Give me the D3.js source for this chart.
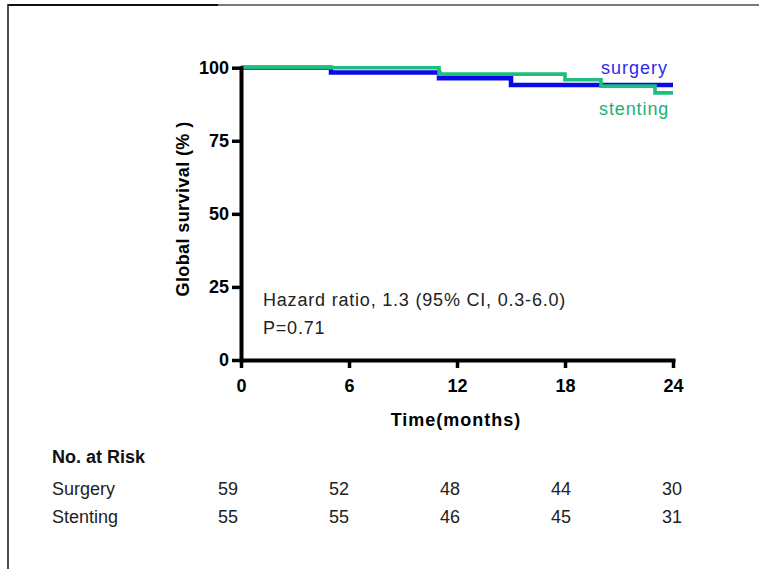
<!DOCTYPE html>
<html>
<head>
<meta charset="utf-8">
<script src="https://cdn.jsdelivr.net/npm/d3@7"></script>
<style>
  html, body { margin: 0; padding: 0; background: #fff; }
  svg { display: block; }
  text { font-family: "Liberation Sans", Arial, sans-serif; }
</style>
</head>
<body>
<svg id="chart" width="759" height="569"></svg>
<script>
// Kaplan-Meier step curves (time in months, survival in %)
const surgeryTimes = [0, 5, 11, 15, 24];
const surgeryValues = [100, 98.4, 96.4, 94.1, 94.1];
const stentingTimes = [0, 11, 18, 20, 23, 24];
const stentingValues = [100, 97.8, 95.9, 93.7, 91.4, 91.4];

// Axis ticks
const xTicks = [0, 6, 12, 18, 24];
const yTicks = [0, 25, 50, 75, 100];

// Number-at-risk table
const riskGroups = ["Surgery", "Stenting"];
const riskSurgery = [59, 52, 48, 44, 30];
const riskStenting = [55, 55, 46, 45, 31];

const svg = d3.select("#chart");

// Page frame
svg.append("line").attr("x1", 8).attr("x2", 218).attr("y1", 5).attr("y2", 5)
  .attr("stroke", "#111").attr("stroke-width", 2);
svg.append("line").attr("x1", 218).attr("x2", 759).attr("y1", 5).attr("y2", 5)
  .attr("stroke", "#7a7a7a").attr("stroke-width", 2);
svg.append("line").attr("x1", 8).attr("x2", 8).attr("y1", 4).attr("y2", 569)
  .attr("stroke", "#222").attr("stroke-width", 1.6);

const x = d3.scaleLinear().domain([0, 24]).range([241, 673]);
const y = d3.scaleLinear().domain([0, 100]).range([360, 67.7]);

// Survival curves
const step = d3.line().x(d => x(d[0])).y(d => y(d[1])).curve(d3.curveStepAfter);
const surgeryPts = surgeryTimes.map((t, i) => [t, surgeryValues[i]]);
const stentingPts = stentingTimes.map((t, i) => [t, stentingValues[i]]);

svg.append("path").datum(surgeryPts).attr("d", step)
  .attr("fill", "none").attr("stroke", "#0a0ae6").attr("stroke-width", 4.5);
svg.append("path").datum(stentingPts).attr("d", step)
  .attr("fill", "none").attr("stroke", "#1ebf7e").attr("stroke-width", 3.6);

// Axes
const yAxis = svg.append("g").attr("transform", "translate(241,0)")
  .call(d3.axisLeft(y).tickValues(yTicks).tickSize(9).tickPadding(3).tickSizeOuter(0));
const xAxis = svg.append("g").attr("transform", "translate(0,360)")
  .call(d3.axisBottom(x).tickValues(xTicks).tickSize(8).tickPadding(11).tickSizeOuter(0));

[yAxis, xAxis].forEach(ax => {
  ax.select(".domain").attr("stroke", "#000").attr("stroke-width", 4).attr("stroke-linecap", "square");
  ax.selectAll(".tick line").attr("stroke", "#000").attr("stroke-width", 3.5);
  ax.selectAll(".tick text")
    .attr("fill", "#000")
    .style("font-family", "'Liberation Sans Narrow', 'Liberation Sans', Arial, sans-serif")
    .style("font-weight", "bold")
    .style("font-size", "18px");
});

// Axis titles
svg.append("text")
  .attr("transform", "translate(189,209) rotate(-90)")
  .attr("text-anchor", "middle")
  .style("font-weight", "bold").style("font-size", "18px").style("letter-spacing", "0.4px")
  .text("Global survival (% )");

svg.append("text")
  .attr("x", 456).attr("y", 426)
  .attr("text-anchor", "middle")
  .style("font-weight", "bold").style("font-size", "18px").style("letter-spacing", "1px")
  .text("Time(months)");

// Curve labels
svg.append("text").attr("x", 601).attr("y", 74)
  .attr("fill", "#2b2bf0").style("font-size", "18px").style("letter-spacing", "1px")
  .text("surgery");
svg.append("text").attr("x", 599).attr("y", 115)
  .attr("fill", "#22b070").style("font-size", "18px").style("letter-spacing", "0.9px")
  .text("stenting");

// Statistics
svg.append("text").attr("x", 263).attr("y", 306)
  .attr("fill", "#222").style("font-size", "18px").style("letter-spacing", "0.8px")
  .text("Hazard ratio, 1.3 (95% CI, 0.3-6.0)");
svg.append("text").attr("x", 263).attr("y", 334)
  .attr("fill", "#222").style("font-size", "18px").style("letter-spacing", "0.8px")
  .text("P=0.71");

// Number-at-risk table
const col = d3.scaleLinear().domain([0, riskSurgery.length - 1]).range([228, 672]);
svg.append("text").attr("x", 52).attr("y", 463)
  .attr("fill", "#111").style("font-weight", "bold").style("font-size", "18px")
  .text("No. at Risk");

const rows = [riskSurgery, riskStenting];
const rowY = [495, 523];
rows.forEach((vals, r) => {
  svg.append("text").attr("x", 52).attr("y", rowY[r])
    .attr("fill", "#222").style("font-size", "18px")
    .text(riskGroups[r]);
  svg.append("g").selectAll("text").data(vals).join("text")
    .attr("x", (d, i) => col(i)).attr("y", rowY[r])
    .attr("text-anchor", "middle")
    .attr("fill", "#222").style("font-size", "18px")
    .text(d => d);
});
</script>
</body>
</html>
